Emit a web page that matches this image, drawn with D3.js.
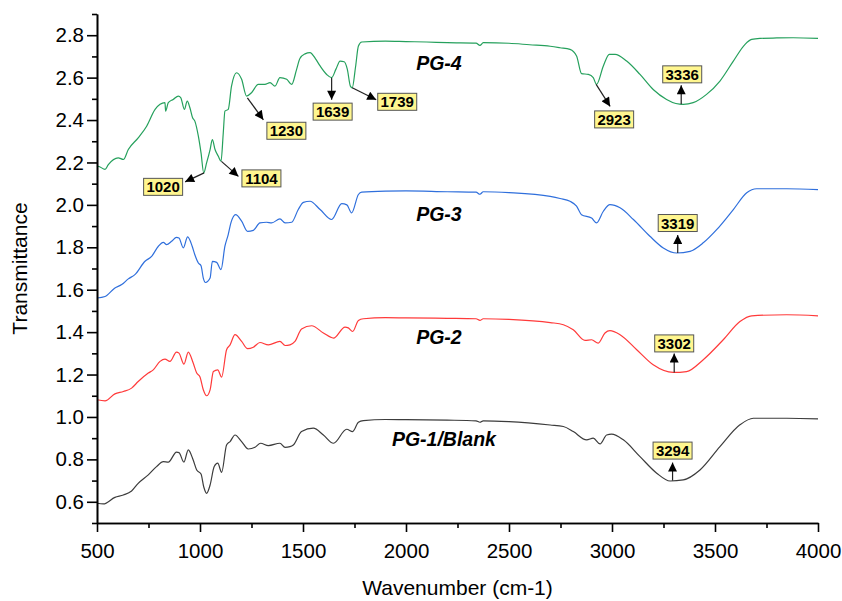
<!DOCTYPE html>
<html>
<head>
<meta charset="utf-8">
<script src="https://cdn.jsdelivr.net/npm/d3@7"></script>
<style>
  html, body { margin: 0; padding: 0; background: #fff; overflow: hidden; }
  svg { display: block; }
  text { font-family: "Liberation Sans", Arial, sans-serif; }
  .axis path, .axis line { stroke: #000; stroke-width: 1.6; }
  .axis text { font-size: 20.5px; fill: #000; }
  .axis-label { font-size: 21px; fill: #000; }
  .series-label { font-size: 19.5px; font-weight: bold; font-style: italic; fill: #000; }
  .peak-box { fill: #fff68f; stroke: #555; stroke-width: 1; }
  .peak-text { font-size: 15px; font-weight: bold; fill: #000; }
</style>
</head>
<body>
<div id="chart"></div>
<script>
// ---- Data: FTIR spectra [wavenumber, transmittance] ----
const pg1 = [[500,0.593],[531,0.59],[587,0.621],[628,0.632],[668,0.651],[700,0.687],[749,0.727],[789,0.766],[822,0.789],[846,0.787],[886,0.834],[898,0.832],[922,0.787],[943,0.845],[967,0.797],[984,0.75],[1005,0.731],[1018,0.671],[1032,0.64],[1049,0.679],[1069,0.766],[1086,0.782],[1105,0.739],[1129,0.868],[1146,0.884],[1170,0.915],[1202,0.884],[1234,0.849],[1267,0.857],[1294,0.876],[1332,0.865],[1388,0.876],[1413,0.857],[1437,0.86],[1453,0.868],[1493,0.931],[1550,0.947],[1599,0.915],[1648,0.876],[1712,0.942],[1741,0.931],[1769,0.975],[1793,0.983],[1900,0.988],[2000,0.987],[2200,0.985],[2340,0.982],[2359,0.975],[2375,0.982],[2500,0.978],[2700,0.962],[2764,0.955],[2812,0.931],[2877,0.892],[2909,0.9],[2942,0.873],[2974,0.915],[2998,0.919],[3055,0.892],[3136,0.813],[3217,0.735],[3282,0.698],[3346,0.703],[3427,0.75],[3524,0.86],[3621,0.963],[3686,0.994],[3848,0.994],[4000,0.991]];

const pg2 = [[500,1.081],[539,1.076],[587,1.109],[628,1.12],[668,1.136],[700,1.167],[749,1.207],[773,1.222],[806,1.262],[830,1.273],[854,1.262],[886,1.306],[898,1.301],[922,1.249],[943,1.306],[967,1.254],[984,1.207],[1000,1.188],[1016,1.128],[1032,1.1],[1049,1.128],[1065,1.214],[1086,1.222],[1105,1.188],[1129,1.317],[1146,1.34],[1170,1.388],[1202,1.356],[1231,1.322],[1259,1.329],[1291,1.351],[1332,1.34],[1388,1.356],[1413,1.337],[1437,1.34],[1461,1.356],[1493,1.415],[1542,1.43],[1599,1.396],[1648,1.372],[1704,1.424],[1720,1.42],[1741,1.403],[1769,1.455],[1793,1.463],[1900,1.468],[2000,1.467],[2200,1.465],[2340,1.463],[2359,1.455],[2375,1.463],[2500,1.46],[2700,1.445],[2764,1.435],[2812,1.411],[2869,1.361],[2901,1.364],[2933,1.348],[2966,1.396],[2990,1.407],[3039,1.388],[3120,1.317],[3200,1.246],[3297,1.21],[3362,1.214],[3443,1.27],[3540,1.364],[3621,1.45],[3678,1.477],[3848,1.482],[4000,1.477]];

const pg3 = [[500,1.561],[539,1.568],[587,1.608],[620,1.624],[652,1.651],[684,1.671],[733,1.734],[765,1.757],[798,1.805],[822,1.823],[838,1.813],[862,1.828],[886,1.847],[898,1.844],[919,1.797],[940,1.849],[962,1.805],[975,1.765],[992,1.726],[1005,1.713],[1016,1.655],[1027,1.634],[1049,1.655],[1060,1.734],[1081,1.729],[1102,1.695],[1121,1.805],[1137,1.86],[1150,1.915],[1173,1.954],[1202,1.923],[1231,1.875],[1259,1.88],[1291,1.915],[1323,1.918],[1348,1.915],[1388,1.934],[1413,1.915],[1445,1.918],[1477,1.978],[1502,2.012],[1534,2.017],[1583,1.978],[1639,1.931],[1688,2.006],[1713,2.0],[1736,1.962],[1769,2.049],[1785,2.06],[1900,2.065],[2000,2.066],[2200,2.062],[2340,2.06],[2359,2.05],[2375,2.062],[2500,2.058],[2700,2.04],[2748,2.03],[2796,2.017],[2828,1.994],[2852,1.954],[2901,1.938],[2925,1.915],[2958,1.97],[2990,2.001],[3039,1.986],[3104,1.931],[3184,1.852],[3249,1.797],[3314,1.773],[3379,1.781],[3443,1.821],[3508,1.883],[3589,1.978],[3654,2.057],[3702,2.076],[3848,2.076],[4000,2.072]];

const pg4 = [[500,2.18],[506,2.182],[539,2.167],[555,2.19],[603,2.222],[628,2.214],[652,2.261],[700,2.316],[741,2.371],[782,2.45],[806,2.474],[830,2.482],[833,2.442],[846,2.482],[870,2.497],[895,2.513],[907,2.505],[924,2.45],[938,2.489],[951,2.458],[964,2.411],[975,2.395],[992,2.324],[1005,2.245],[1018,2.151],[1032,2.198],[1049,2.261],[1060,2.308],[1073,2.261],[1089,2.229],[1102,2.206],[1113,2.34],[1121,2.442],[1137,2.45],[1153,2.56],[1178,2.623],[1202,2.592],[1226,2.513],[1250,2.529],[1283,2.568],[1315,2.568],[1340,2.576],[1364,2.56],[1388,2.6],[1421,2.592],[1445,2.568],[1469,2.639],[1485,2.69],[1510,2.712],[1534,2.718],[1560,2.69],[1583,2.655],[1615,2.615],[1639,2.6],[1660,2.64],[1680,2.678],[1700,2.675],[1715,2.64],[1730,2.56],[1739,2.552],[1755,2.65],[1769,2.749],[1785,2.768],[1900,2.772],[2000,2.77],[2100,2.768],[2200,2.765],[2340,2.763],[2359,2.752],[2375,2.765],[2500,2.762],[2600,2.755],[2700,2.748],[2748,2.741],[2796,2.733],[2828,2.702],[2852,2.619],[2885,2.615],[2909,2.6],[2925,2.568],[2958,2.655],[2987,2.71],[3015,2.71],[3071,2.678],[3136,2.615],[3200,2.544],[3265,2.497],[3310,2.478],[3346,2.474],[3394,2.482],[3459,2.521],[3524,2.584],[3589,2.678],[3646,2.757],[3678,2.78],[3718,2.785],[3800,2.787],[3879,2.788],[4000,2.785]];

const seriesNames = ["PG-1/Blank", "PG-2", "PG-3", "PG-4"];
const seriesData = [pg1, pg2, pg3, pg4];
// where each series name sits (wavenumber, transmittance)
const seriesLabelPos = [[2184, 0.861], [2160, 1.345], [2160, 1.923], [2160, 2.634]];

// peak labels: text, wavenumber and transmittance of the marked point
const peakLabels = ["1020", "1104", "1230", "1639", "1739", "2923", "3336", "3319", "3302", "3294"];
const peakPoints = [[1020, 2.151], [1104, 2.205], [1230, 2.505], [1639, 2.60], [1739, 2.552],
                    [2923, 2.568], [3336, 2.474], [3319, 1.773], [3302, 1.21], [3294, 0.70]];

const xTicks = [500, 1000, 1500, 2000, 2500, 3000, 3500, 4000];
const xMinorTicks = [750, 1250, 1750, 2250, 2750, 3250, 3750];
const yTicks = [0.6, 0.8, 1.0, 1.2, 1.4, 1.6, 1.8, 2.0, 2.2, 2.4, 2.6, 2.8];
const yMinorTicks = [0.5, 0.7, 0.9, 1.1, 1.3, 1.5, 1.7, 1.9, 2.1, 2.3, 2.5, 2.7, 2.9];

// ---- Layout & style ----
const width = 842, height = 601;
const margin = { top: 14, right: 24, bottom: 78, left: 97 };
const innerWidth = width - margin.left - margin.right;
const innerHeight = height - margin.top - margin.bottom;
const colors = ["#3c3c3c", "#ff3a3a", "#2f6fdc", "#25a05c"];
// label box centre and arrow tip, in px from the marked point
const peakLayout = [
  { box: [-41, 14], tip: [-19, 9] },
  { box: [40, 17], tip: [17, 15] },
  { box: [39, 33], tip: [16, 22] },
  { box: [1, 34], tip: [0, 22] },
  { box: [45, 14], tip: [24, 12] },
  { box: [18, 35], tip: [14, 22] },
  { box: [1, -30], tip: [0, -19] },
  { box: [0, -30], tip: [0, -18] },
  { box: [0, -29], tip: [0, -19] },
  { box: [0, -30], tip: [0, -18] }
];

const xScale = d3.scaleLinear().domain([500, 4000]).range([0, innerWidth]);
const yScale = d3.scaleLinear().domain([0.5, 2.9]).range([innerHeight, 0]);

const svg = d3.select("#chart")
  .append("svg")
  .attr("width", width)
  .attr("height", height)
  .append("g")
  .attr("transform", `translate(${margin.left},${margin.top})`);

// ---- Spectra ----
const line = d3.line()
  .x(d => xScale(d[0]))
  .y(d => yScale(d[1]))
  .curve(d3.curveMonotoneX);

svg.selectAll(".spectrum")
  .data(seriesData)
  .join("path")
  .attr("class", "spectrum")
  .attr("fill", "none")
  .attr("stroke", (d, i) => colors[i])
  .attr("stroke-width", 1.2)
  .attr("d", line);

svg.selectAll(".series-label")
  .data(seriesNames)
  .join("text")
  .attr("class", "series-label")
  .attr("x", (d, i) => xScale(seriesLabelPos[i][0]))
  .attr("y", (d, i) => yScale(seriesLabelPos[i][1]))
  .attr("text-anchor", "middle")
  .text(d => d);

// ---- Axes ----
svg.append("g")
  .attr("class", "axis x-axis")
  .attr("transform", `translate(0,${innerHeight})`)
  .call(d3.axisBottom(xScale).tickValues(xTicks).tickFormat(d3.format("d")).tickSize(9).tickSizeOuter(0).tickPadding(11));

svg.append("g")
  .attr("class", "axis x-minor")
  .attr("transform", `translate(0,${innerHeight})`)
  .call(d3.axisBottom(xScale).tickValues(xMinorTicks).tickSize(5).tickSizeOuter(0))
  .call(g => g.selectAll("text").remove());

svg.append("g")
  .attr("class", "axis y-axis")
  .call(d3.axisLeft(yScale).tickValues(yTicks).tickFormat(d3.format(".1f")).tickSize(10).tickSizeOuter(0).tickPadding(3));

svg.append("g")
  .attr("class", "axis y-minor")
  .call(d3.axisLeft(yScale).tickValues(yMinorTicks).tickSize(5).tickSizeOuter(0))
  .call(g => g.selectAll("text").remove());

svg.append("text")
  .attr("class", "axis-label")
  .attr("x", innerWidth / 2)
  .attr("y", innerHeight + 72)
  .attr("text-anchor", "middle")
  .text("Wavenumber (cm-1)");

svg.append("text")
  .attr("class", "axis-label")
  .attr("transform", "rotate(-90)")
  .attr("x", -innerHeight / 2)
  .attr("y", -70)
  .attr("text-anchor", "middle")
  .text("Transmittance");

// ---- Peak annotations ----
svg.append("defs").append("marker")
  .attr("id", "arrow")
  .attr("viewBox", "0 0 10 10")
  .attr("refX", 10).attr("refY", 5)
  .attr("markerWidth", 12).attr("markerHeight", 9)
  .attr("markerUnits", "userSpaceOnUse")
  .attr("orient", "auto")
  .append("path")
  .attr("d", "M0,0 L10,5 L0,10 Z")
  .attr("fill", "#000");

const px = i => xScale(peakPoints[i][0]);
const py = i => yScale(peakPoints[i][1]);

svg.selectAll(".peak-arrow")
  .data(peakLabels)
  .join("line")
  .attr("class", "peak-arrow")
  .attr("x1", (d, i) => px(i))
  .attr("y1", (d, i) => py(i))
  .attr("x2", (d, i) => px(i) + peakLayout[i].tip[0])
  .attr("y2", (d, i) => py(i) + peakLayout[i].tip[1])
  .attr("stroke", "#222")
  .attr("stroke-width", 1.2)
  .attr("marker-end", "url(#arrow)");

svg.selectAll(".peak-box")
  .data(peakLabels)
  .join("rect")
  .attr("class", "peak-box")
  .attr("x", (d, i) => px(i) + peakLayout[i].box[0] - 19.5)
  .attr("y", (d, i) => py(i) + peakLayout[i].box[1] - 8.5)
  .attr("width", 39)
  .attr("height", 17);

svg.selectAll(".peak-text")
  .data(peakLabels)
  .join("text")
  .attr("class", "peak-text")
  .attr("x", (d, i) => px(i) + peakLayout[i].box[0])
  .attr("y", (d, i) => py(i) + peakLayout[i].box[1] + 5.5)
  .attr("text-anchor", "middle")
  .text(d => d);
</script>
</body>
</html>
